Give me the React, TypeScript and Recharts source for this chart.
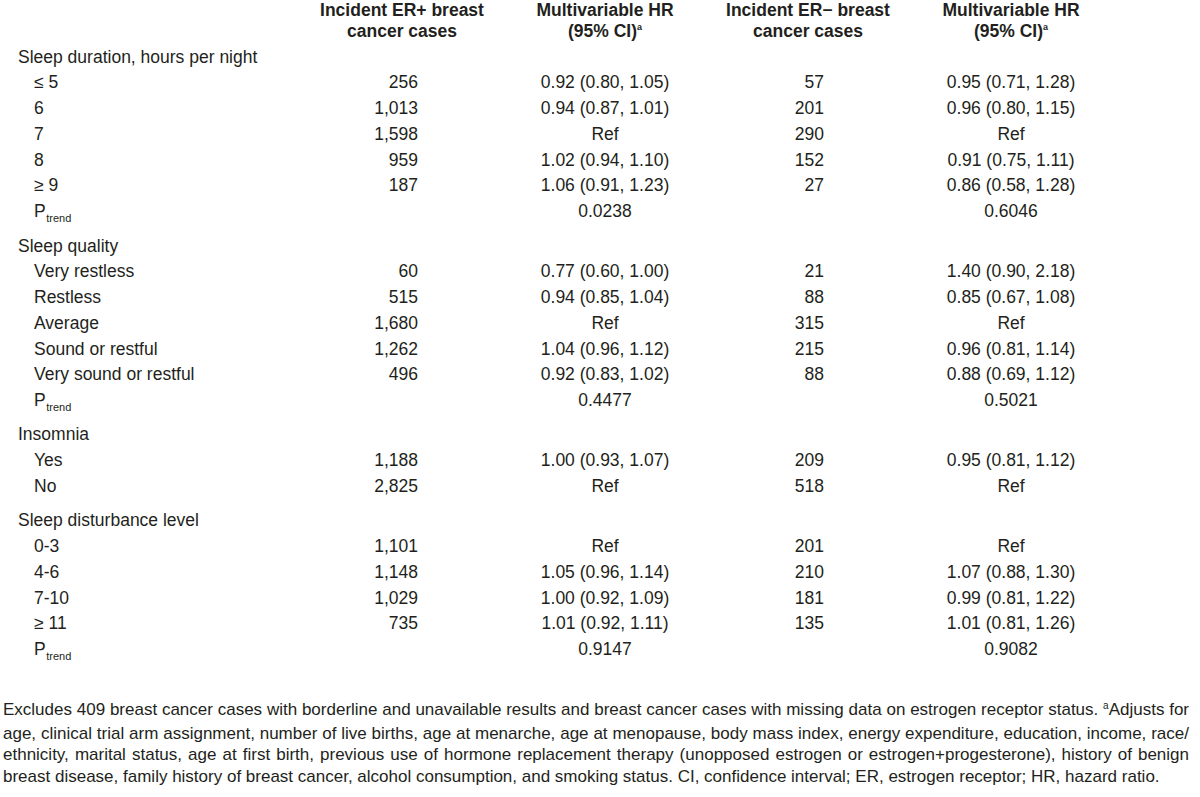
import { ScatterChart, Scatter, XAxis, YAxis } from 'recharts';

const FONT = "'Liberation Sans', Arial, Helvetica, sans-serif";
const INK = '#231f20';

// row labels, top to bottom
const ROW_LABELS = [
  'Sleep duration, hours per night', '≤ 5', '6', '7', '8', '≥ 9', 'P',
  'Sleep quality', 'Very restless', 'Restless', 'Average', 'Sound or restful', 'Very sound or restful', 'P',
  'Insomnia', 'Yes', 'No',
  'Sleep disturbance level', '0-3', '4-6', '7-10', '≥ 11', 'P',
];
const ROW_KINDS = [
  'section', 'item', 'item', 'item', 'item', 'item', 'trend',
  'section', 'item', 'item', 'item', 'item', 'item', 'trend',
  'section', 'item', 'item',
  'section', 'item', 'item', 'item', 'item', 'trend',
];

const ER_POS_CASES = [
  null, 256, 1013, 1598, 959, 187, null,
  null, 60, 515, 1680, 1262, 496, null,
  null, 1188, 2825,
  null, 1101, 1148, 1029, 735, null,
];
const ER_POS_HR = [
  null, '0.92 (0.80, 1.05)', '0.94 (0.87, 1.01)', 'Ref', '1.02 (0.94, 1.10)', '1.06 (0.91, 1.23)', '0.0238',
  null, '0.77 (0.60, 1.00)', '0.94 (0.85, 1.04)', 'Ref', '1.04 (0.96, 1.12)', '0.92 (0.83, 1.02)', '0.4477',
  null, '1.00 (0.93, 1.07)', 'Ref',
  null, 'Ref', '1.05 (0.96, 1.14)', '1.00 (0.92, 1.09)', '1.01 (0.92, 1.11)', '0.9147',
];
const ER_NEG_CASES = [
  null, 57, 201, 290, 152, 27, null,
  null, 21, 88, 315, 215, 88, null,
  null, 209, 518,
  null, 201, 210, 181, 135, null,
];
const ER_NEG_HR = [
  null, '0.95 (0.71, 1.28)', '0.96 (0.80, 1.15)', 'Ref', '0.91 (0.75, 1.11)', '0.86 (0.58, 1.28)', '0.6046',
  null, '1.40 (0.90, 2.18)', '0.85 (0.67, 1.08)', 'Ref', '0.96 (0.81, 1.14)', '0.88 (0.69, 1.12)', '0.5021',
  null, '0.95 (0.81, 1.12)', 'Ref',
  null, 'Ref', '1.07 (0.88, 1.30)', '0.99 (0.81, 1.22)', '1.01 (0.81, 1.26)', '0.9082',
];

const COLUMN_HEADERS = [
  ['Incident ER+ breast', 'cancer cases'],
  ['Multivariable HR', '(95% CI)'],
  ['Incident ER− breast', 'cancer cases'],
  ['Multivariable HR', '(95% CI)'],
];
const HEADER_SUP = [false, true, false, true];

const FOOTNOTE = [
  ['Excludes 409 breast cancer cases with borderline and unavailable results and breast cancer cases with missing data on estrogen receptor status. ', 'a', 'Adjusts for'],
  ['age, clinical trial arm assignment, number of live births, age at menarche, age at menopause, body mass index, energy expenditure, education, income, race/'],
  ['ethnicity, marital status, age at first birth, previous use of hormone replacement therapy (unopposed estrogen or estrogen+progesterone), history of benign'],
  ['breast disease, family history of breast cancer, alcohol consumption, and smoking status. CI, confidence interval; ER, estrogen receptor; HR, hazard ratio.'],
];

// extra space before every section after the first one
const SECTION_GAP = 0.334;
const ROW_POS: number[] = [];
{
  let extra = 0;
  ROW_KINDS.forEach((k, i) => {
    if (k === 'section' && i > 0) extra += SECTION_GAP;
    ROW_POS.push(i + extra);
  });
}

const fmt = (n: number) => n.toLocaleString('en-US');

function column(col: number, values: (number | string | null)[]) {
  return values
    .map((v, i) => (v == null ? null : { col, row: ROW_POS[i], text: typeof v === 'number' ? fmt(v) : v }))
    .filter(Boolean);
}

const caseCell = (props: any) => (
  <text x={props.cx + 16} y={props.cy + 6.3} textAnchor="end" fontSize={17.5} fill={INK} fontFamily={FONT}>
    {props.payload.text}
  </text>
);
const hrCell = (props: any) => (
  <text x={props.cx} y={props.cy + 6.3} textAnchor="middle" fontSize={17.5} fill={INK} fontFamily={FONT}>
    {props.payload.text}
  </text>
);

const RowTick = (props: any) => {
  const idx = props.index ?? props.payload?.index ?? 0;
  const kind = ROW_KINDS[idx];
  const y = props.y + 6.3;
  if (kind === 'trend') {
    return (
      <text x={34} y={y} fontSize={17.5} fill={INK} fontFamily={FONT}>
        P
        <tspan fontSize={11} dy={4.5} dx={0.5}>trend</tspan>
      </text>
    );
  }
  return (
    <text x={kind === 'section' ? 18 : 34} y={y} fontSize={17.5} fill={INK} fontFamily={FONT}>
      {ROW_LABELS[idx]}
    </text>
  );
};

const HeaderTick = (props: any) => {
  const idx = props.index ?? props.payload?.index ?? 0;
  const [l1, l2] = COLUMN_HEADERS[idx];
  return (
    <text x={props.x} textAnchor="middle" fontSize={17.5} fontWeight="bold" fill={INK} fontFamily={FONT}>
      <tspan x={props.x} y={16}>{l1}</tspan>
      <tspan x={props.x} y={36.5}>
        {l2}
        {HEADER_SUP[idx] ? <tspan fontSize={9} dy={-7}>a</tspan> : null}
      </tspan>
    </text>
  );
};

export default function App() {
  return (
    <div style={{ position: 'absolute', left: 0, top: 0, width: 1200, height: 797, background: '#fff', fontFamily: FONT, color: INK }}>
      <ScatterChart width={1200} height={690} margin={{ top: 0.65, right: 87.5, bottom: 15.6, left: 0 }}>
        <XAxis
          type="number"
          dataKey="col"
          orientation="top"
          domain={[-0.5, 3.5]}
          ticks={[0, 1, 2, 3]}
          interval={0}
          height={30}
          axisLine={false}
          tickLine={false}
          tick={<HeaderTick />}
        />
        <YAxis
          type="number"
          dataKey="row"
          reversed
          domain={[-1, 24]}
          ticks={ROW_POS}
          interval={0}
          width={300.5}
          axisLine={false}
          tickLine={false}
          tick={<RowTick />}
        />
        <Scatter data={column(0, ER_POS_CASES)} shape={caseCell} isAnimationActive={false} />
        <Scatter data={column(1, ER_POS_HR)} shape={hrCell} isAnimationActive={false} />
        <Scatter data={column(2, ER_NEG_CASES)} shape={caseCell} isAnimationActive={false} />
        <Scatter data={column(3, ER_NEG_HR)} shape={hrCell} isAnimationActive={false} />
      </ScatterChart>
      <div style={{ position: 'absolute', left: 3, top: 698.8, width: 1186, fontSize: 17, lineHeight: '21.8px' }}>
        {FOOTNOTE.map((line, i) => (
          <div key={i} style={{ textAlign: 'justify', textAlignLast: i < FOOTNOTE.length - 1 ? 'justify' : 'left', whiteSpace: 'nowrap' }}>
            {line[0]}
            {line[1] ? <span style={{ fontSize: 10, position: 'relative', top: -6 }}>{line[1]}</span> : null}
            {line[2]}
          </div>
        ))}
      </div>
    </div>
  );
}
